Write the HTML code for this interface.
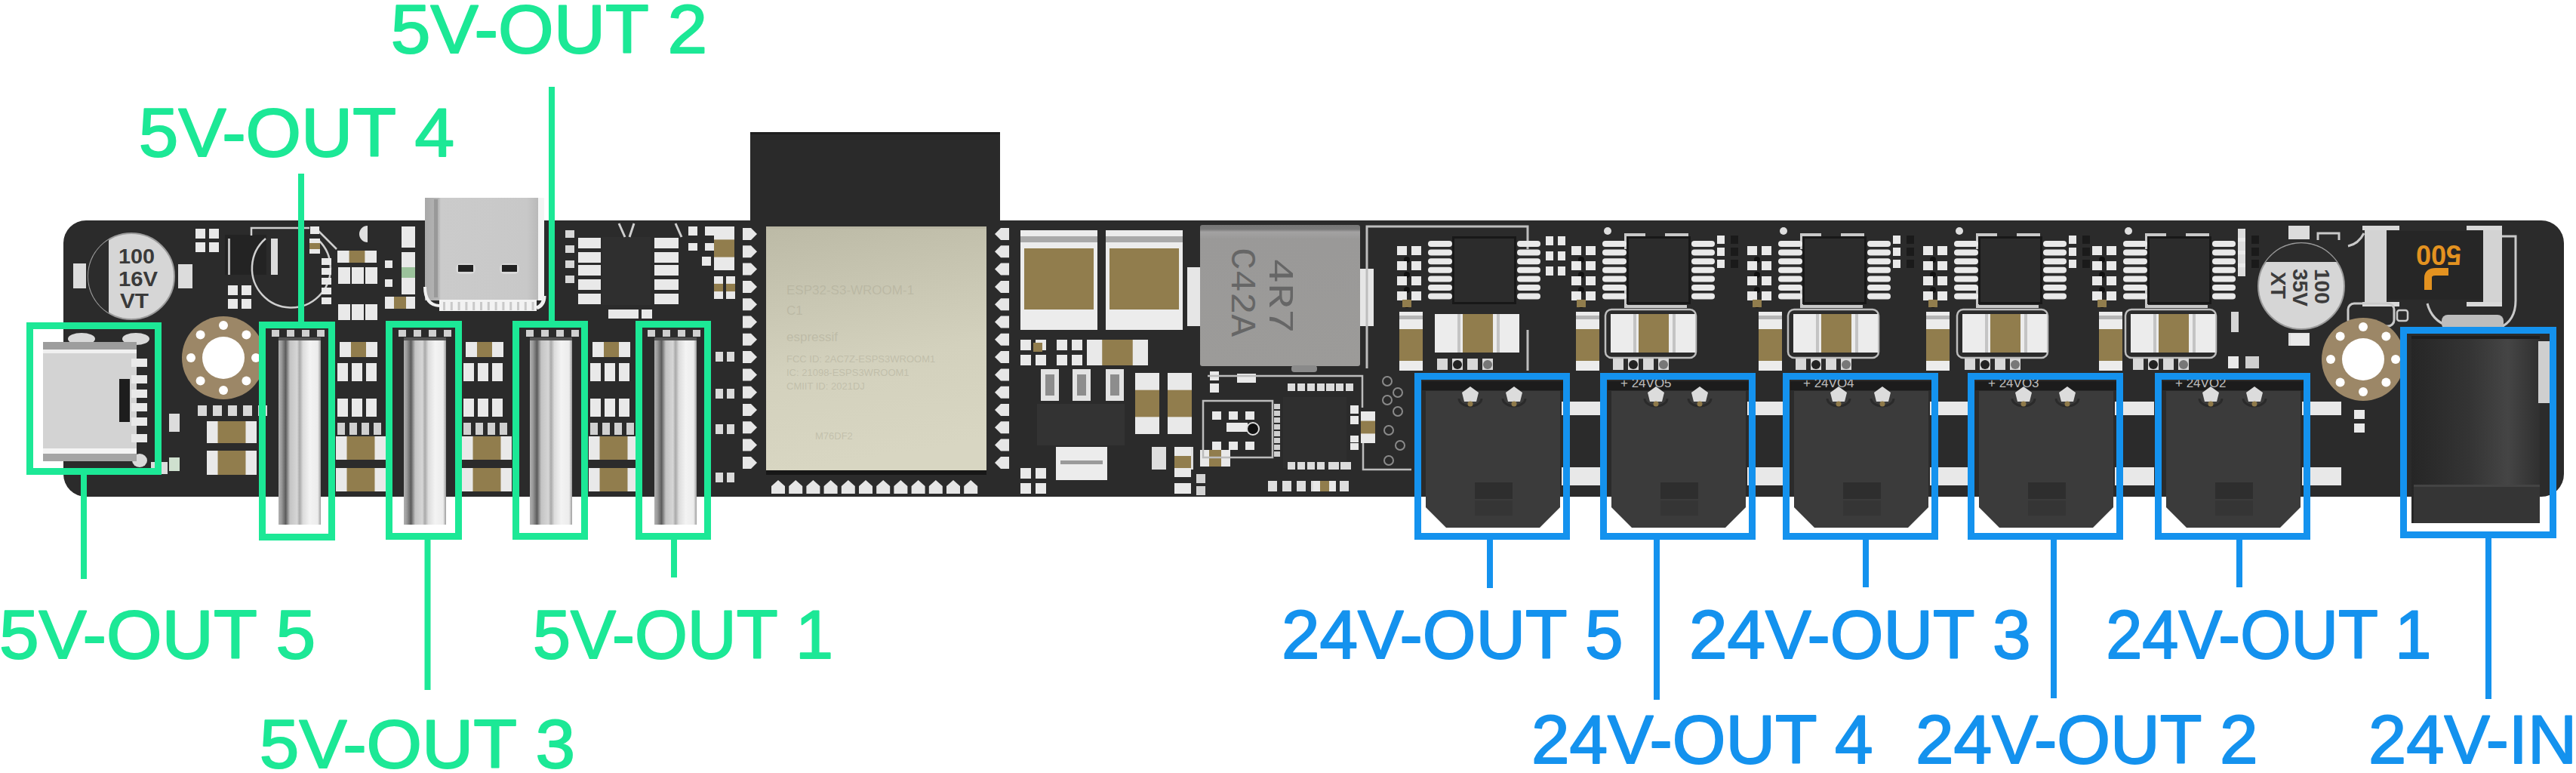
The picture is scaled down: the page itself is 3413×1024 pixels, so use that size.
<!DOCTYPE html>
<html><head><meta charset="utf-8"><title>PCB</title>
<style>
html,body{margin:0;padding:0;background:#fff;width:3413px;height:1024px;overflow:hidden}
svg{display:block}
.lbl{font-family:"Liberation Sans",sans-serif;font-size:91px;stroke-width:2px;stroke-linejoin:round}
.silk{font-family:"Liberation Sans",sans-serif}
</style></head><body>
<svg width="3413" height="1024" viewBox="0 0 3413 1024">
<defs>
<linearGradient id="cylg" x1="0" x2="1" y1="0" y2="0">
<stop offset="0" stop-color="#b0b0b0"/><stop offset="0.07" stop-color="#9a9a9a"/><stop offset="0.17" stop-color="#5c5c5c"/>
<stop offset="0.27" stop-color="#c4c4c4"/><stop offset="0.44" stop-color="#d6d6d6"/><stop offset="0.5" stop-color="#a9a9a9"/>
<stop offset="0.58" stop-color="#dcdcdc"/><stop offset="0.74" stop-color="#f3f3f3"/><stop offset="0.93" stop-color="#ececec"/><stop offset="1" stop-color="#9c9c9c"/>
</linearGradient>
<linearGradient id="espg" x1="0" x2="0.15" y1="0" y2="1">
<stop offset="0" stop-color="#bcbaa6"/><stop offset="0.6" stop-color="#d3d1bd"/><stop offset="1" stop-color="#d8d6c2"/>
</linearGradient>
<linearGradient id="indg" x1="0" x2="0" y1="0" y2="1">
<stop offset="0" stop-color="#767676"/><stop offset="0.03" stop-color="#7a7a7a"/><stop offset="0.05" stop-color="#a3a2a2"/><stop offset="0.1" stop-color="#9a9998"/><stop offset="1" stop-color="#9c9b99"/>
</linearGradient>
<linearGradient id="jackg" x1="0" x2="1" y1="0" y2="0">
<stop offset="0" stop-color="#262626"/><stop offset="0.45" stop-color="#343434"/><stop offset="0.75" stop-color="#454545"/><stop offset="1" stop-color="#303030"/>
</linearGradient>
<linearGradient id="usbg" x1="0" x2="1" y1="0" y2="0">
<stop offset="0" stop-color="#a9a9a9"/><stop offset="0.12" stop-color="#b5b5b5"/><stop offset="0.14" stop-color="#cbcbcb"/><stop offset="0.9" stop-color="#c8c8c8"/><stop offset="1" stop-color="#b9b9b9"/>
</linearGradient>
</defs>
<rect x="994" y="175" width="331" height="125" fill="#2a2a2a"/>
<rect x="994" y="175" width="331" height="3" fill="#1f1f1f"/>
<rect x="84" y="292" width="3313" height="366" fill="#2b2b2b" rx="30"/>
<rect x="97" y="349" width="17" height="33" fill="#dcdcdc"/>
<rect x="236" y="350" width="19" height="32" fill="#dcdcdc"/>
<circle cx="174" cy="366" r="57" fill="#d6d6d6" stroke="#9a9a9a" stroke-width="2"/>
<path d="M 144 317.5 A 57 57 0 0 0 144 414.5 Z" fill="#2c2c2c"/>
<text class="silk" x="157" y="349" font-size="28" font-weight="bold" fill="#3a3a3a" textLength="48" lengthAdjust="spacingAndGlyphs">100</text>
<text class="silk" x="157" y="379" font-size="28" font-weight="bold" fill="#3a3a3a" textLength="52" lengthAdjust="spacingAndGlyphs">16V</text>
<text class="silk" x="159" y="408" font-size="28" font-weight="bold" fill="#3a3a3a" textLength="38" lengthAdjust="spacingAndGlyphs">VT</text>
<ellipse cx="108" cy="449" rx="18" ry="8" fill="#d9d9d9"/>
<ellipse cx="180" cy="449" rx="18" ry="8" fill="#d9d9d9"/>
<ellipse cx="185" cy="610" rx="10" ry="9" fill="#d9d9d9"/>
<rect x="57" y="453" width="124" height="158" fill="#d3d3d3"/>
<rect x="57" y="453" width="124" height="10" fill="#9d9d9d"/>
<rect x="57" y="463" width="124" height="5" fill="#f0f0f0"/>
<rect x="57" y="594" width="124" height="7" fill="#f4f4f4"/>
<rect x="57" y="601" width="124" height="10" fill="#a5a5a5"/>
<rect x="158" y="502" width="14" height="57" fill="#1d1d1d"/>
<rect x="174" y="475" width="21" height="11" fill="#e9e9e9"/>
<rect x="174" y="497" width="21" height="11" fill="#e9e9e9"/>
<rect x="174" y="516" width="21" height="11" fill="#e9e9e9"/>
<rect x="174" y="534" width="21" height="11" fill="#e9e9e9"/>
<rect x="174" y="553" width="21" height="11" fill="#e9e9e9"/>
<rect x="174" y="575" width="21" height="11" fill="#e9e9e9"/>
<circle cx="296" cy="474" r="55" fill="#9c8767" />
<circle cx="296" cy="474" r="28" fill="#ffffff" />
<circle cx="339.0" cy="474.0" r="6" fill="#ffffff" />
<circle cx="326.4" cy="504.4" r="6" fill="#ffffff" />
<circle cx="296.0" cy="517.0" r="6" fill="#ffffff" />
<circle cx="265.6" cy="504.4" r="6" fill="#ffffff" />
<circle cx="253.0" cy="474.0" r="6" fill="#ffffff" />
<circle cx="265.6" cy="443.6" r="6" fill="#ffffff" />
<circle cx="296.0" cy="431.0" r="6" fill="#ffffff" />
<circle cx="326.4" cy="443.6" r="6" fill="#ffffff" />
<rect x="274" y="558" width="66" height="29" fill="#e9e9e9"/>
<rect x="288.52" y="558" width="36.96" height="29" fill="#917d4d"/>
<rect x="274" y="597" width="66" height="32" fill="#e9e9e9"/>
<rect x="288.52" y="597" width="36.96" height="32" fill="#917d4d"/>
<rect x="262" y="537" width="12" height="14" fill="#d8d8d8"/>
<rect x="282" y="537" width="12" height="14" fill="#d8d8d8"/>
<rect x="302" y="537" width="12" height="14" fill="#d8d8d8"/>
<rect x="322" y="537" width="12" height="14" fill="#d8d8d8"/>
<rect x="342" y="537" width="12" height="14" fill="#d8d8d8"/>
<rect x="224" y="548" width="14" height="24" fill="#dcdcdc"/>
<rect x="224" y="606" width="14" height="18" fill="#cfe0cf"/>
<rect x="200" y="612" width="22" height="16" fill="#dcdcdc"/>
<rect x="120" y="662" width="0" height="0" fill="#2b2b2b"/>
<rect x="259" y="303" width="13" height="13" fill="#e9e9e9"/>
<rect x="277" y="303" width="13" height="13" fill="#e9e9e9"/>
<rect x="259" y="321" width="13" height="13" fill="#e9e9e9"/>
<rect x="277" y="321" width="13" height="13" fill="#e9e9e9"/>
<rect x="298" y="311" width="55" height="53" fill="#232323"/>
<rect x="302" y="316" width="3" height="48" fill="#bdbdbd"/>
<path d="M 352 316 A 52 52 0 1 0 422 318" fill="none" stroke="#cfcfcf" stroke-width="2.5"/>
<path d="M 333 312 V 302 H 410 M 418 302 L 446 330" fill="none" stroke="#cfcfcf" stroke-width="2.5"/>
<rect x="410" y="316" width="14" height="20" fill="#e9e9e9"/>
<rect x="410" y="322.0" width="14" height="8.0" fill="#917d4d"/>
<rect x="411" y="300" width="12" height="10" fill="#e9e9e9"/>
<rect x="359" y="316" width="9" height="48" fill="#dcdcdc"/>
<rect x="302" y="378" width="13" height="13" fill="#e9e9e9"/>
<rect x="320" y="378" width="13" height="13" fill="#e9e9e9"/>
<rect x="302" y="396" width="13" height="13" fill="#e9e9e9"/>
<rect x="320" y="396" width="13" height="13" fill="#e9e9e9"/>
<rect x="426" y="342" width="13" height="9" fill="#e9e9e9"/>
<rect x="426" y="355" width="13" height="9" fill="#e9e9e9"/>
<rect x="426" y="368" width="13" height="9" fill="#e9e9e9"/>
<rect x="426" y="381" width="13" height="9" fill="#e9e9e9"/>
<rect x="426" y="394" width="13" height="9" fill="#e9e9e9"/>
<rect x="448" y="333" width="51" height="15" fill="#e9e9e9"/>
<rect x="463.3" y="333" width="20.400000000000002" height="15" fill="#917d4d"/>
<rect x="448" y="354" width="13" height="22" fill="#e9e9e9"/>
<rect x="466" y="354" width="13" height="22" fill="#e9e9e9"/>
<rect x="484" y="354" width="13" height="22" fill="#e9e9e9"/>
<rect x="448" y="403" width="13" height="21" fill="#e9e9e9"/>
<rect x="466" y="403" width="13" height="21" fill="#e9e9e9"/>
<rect x="484" y="403" width="13" height="21" fill="#e9e9e9"/>
<path d="M 487 299 A 11 11 0 0 0 487 321 Z" fill="#e0e0e0"/>
<rect x="563" y="262" width="150" height="136" fill="url(#usbg)"/>
<rect x="575" y="264" width="5" height="130" fill="#999999"/>
<rect x="713" y="262" width="8" height="136" fill="#f4f4f4"/>
<rect x="604" y="349" width="26" height="14" rx="6" fill="#d8d8d8"/><rect x="662" y="349" width="26" height="14" rx="6" fill="#d8d8d8"/>
<rect x="607" y="351" width="20" height="9" fill="#222"/>
<rect x="665" y="351" width="20" height="9" fill="#222"/>
<rect x="582" y="397" width="129" height="15" fill="#f2f2f2"/>
<rect x="587.0" y="400" width="3" height="11" fill="#c9c9c9"/>
<rect x="596.8" y="400" width="3" height="11" fill="#c9c9c9"/>
<rect x="606.6" y="400" width="3" height="11" fill="#c9c9c9"/>
<rect x="616.4" y="400" width="3" height="11" fill="#c9c9c9"/>
<rect x="626.2" y="400" width="3" height="11" fill="#c9c9c9"/>
<rect x="636.0" y="400" width="3" height="11" fill="#c9c9c9"/>
<rect x="645.8" y="400" width="3" height="11" fill="#c9c9c9"/>
<rect x="655.6" y="400" width="3" height="11" fill="#c9c9c9"/>
<rect x="665.4" y="400" width="3" height="11" fill="#c9c9c9"/>
<rect x="675.2" y="400" width="3" height="11" fill="#c9c9c9"/>
<rect x="685.0" y="400" width="3" height="11" fill="#c9c9c9"/>
<rect x="694.8" y="400" width="3" height="11" fill="#c9c9c9"/>
<rect x="704.6" y="400" width="3" height="11" fill="#c9c9c9"/>
<path d="M 563 380 Q 563 404 582 405" fill="none" stroke="#f0f0f0" stroke-width="4"/>
<path d="M 721 392 Q 721 404 711 408" fill="none" stroke="#f0f0f0" stroke-width="5"/>
<rect x="447" y="332" width="52" height="16" fill="#e9e9e9"/>
<rect x="462.6" y="332" width="20.8" height="16" fill="#917d4d"/>
<rect x="452" y="354" width="12" height="22" fill="#e9e9e9"/>
<rect x="470" y="354" width="12" height="22" fill="#e9e9e9"/>
<rect x="488" y="354" width="12" height="22" fill="#e9e9e9"/>
<rect x="452" y="403" width="12" height="21" fill="#e9e9e9"/>
<rect x="470" y="403" width="12" height="21" fill="#e9e9e9"/>
<rect x="488" y="403" width="12" height="21" fill="#e9e9e9"/>
<rect x="532" y="300" width="18" height="28" fill="#e9e9e9"/>
<rect x="532" y="334" width="18" height="24" fill="#e9e9e9"/>
<rect x="532" y="354" width="18" height="14" fill="#9bc29b"/>
<rect x="532" y="368" width="18" height="22" fill="#e9e9e9"/>
<rect x="510" y="393" width="40" height="16" fill="#e9e9e9"/>
<rect x="522.0" y="393" width="16.0" height="16" fill="#917d4d"/>
<rect x="510" y="345" width="10" height="10" fill="#e9e9e9"/>
<rect x="510" y="370" width="10" height="10" fill="#e9e9e9"/>
<rect x="798" y="314" width="64" height="90" fill="#2f2f2f"/>
<rect x="766" y="315" width="30" height="14" fill="#e9e9e9"/>
<rect x="867" y="315" width="32" height="14" fill="#e9e9e9"/>
<rect x="766" y="334" width="30" height="14" fill="#e9e9e9"/>
<rect x="867" y="334" width="32" height="14" fill="#e9e9e9"/>
<rect x="766" y="351" width="30" height="14" fill="#e9e9e9"/>
<rect x="867" y="351" width="32" height="14" fill="#e9e9e9"/>
<rect x="766" y="370" width="30" height="14" fill="#e9e9e9"/>
<rect x="867" y="370" width="32" height="14" fill="#e9e9e9"/>
<rect x="766" y="389" width="30" height="14" fill="#e9e9e9"/>
<rect x="867" y="389" width="32" height="14" fill="#e9e9e9"/>
<rect x="749" y="305" width="12" height="10" fill="#d8d8d8"/>
<rect x="749" y="325" width="12" height="10" fill="#d8d8d8"/>
<rect x="749" y="345" width="12" height="10" fill="#d8d8d8"/>
<rect x="749" y="365" width="12" height="10" fill="#d8d8d8"/>
<rect x="946" y="300" width="27" height="58" fill="#e9e9e9"/>
<rect x="946" y="317.4" width="27" height="23.200000000000003" fill="#917d4d"/>
<rect x="912" y="300" width="12" height="12" fill="#e9e9e9"/>
<rect x="934" y="300" width="12" height="12" fill="#e9e9e9"/>
<rect x="912" y="322" width="12" height="10" fill="#e9e9e9"/>
<rect x="934" y="322" width="12" height="10" fill="#e9e9e9"/>
<rect x="930" y="340" width="12" height="12" fill="#e9e9e9"/>
<rect x="946" y="366" width="12" height="30" fill="#e9e9e9"/>
<rect x="946" y="375.9" width="12" height="10.2" fill="#917d4d"/>
<rect x="962" y="366" width="12" height="30" fill="#e9e9e9"/>
<rect x="962" y="375.9" width="12" height="10.2" fill="#917d4d"/>
<rect x="806" y="410" width="40" height="12" fill="#e9e9e9"/>
<rect x="850" y="410" width="14" height="12" fill="#e9e9e9"/>
<path d="M 820 296 L 828 314 M 840 296 L 834 314 M 895 296 L 903 314" stroke="#cfcfcf" stroke-width="3"/>
<rect x="450" y="453" width="50" height="20" fill="#e9e9e9"/>
<rect x="465.0" y="453" width="20.0" height="20" fill="#917d4d"/>
<rect x="447" y="481" width="14" height="24" fill="#e9e9e9"/>
<rect x="466" y="481" width="14" height="24" fill="#e9e9e9"/>
<rect x="485" y="481" width="14" height="24" fill="#e9e9e9"/>
<rect x="447" y="528" width="14" height="24" fill="#e9e9e9"/>
<rect x="466" y="528" width="14" height="24" fill="#e9e9e9"/>
<rect x="485" y="528" width="14" height="24" fill="#e9e9e9"/>
<rect x="447" y="560" width="10" height="16" fill="#d0d0d0"/>
<rect x="463" y="560" width="10" height="16" fill="#d0d0d0"/>
<rect x="479" y="560" width="10" height="16" fill="#d0d0d0"/>
<rect x="495" y="560" width="10" height="16" fill="#d0d0d0"/>
<rect x="445" y="578" width="66" height="31" fill="#e9e9e9"/>
<rect x="459.52" y="578" width="36.96" height="31" fill="#917d4d"/>
<rect x="445" y="620" width="66" height="31" fill="#e9e9e9"/>
<rect x="459.52" y="620" width="36.96" height="31" fill="#917d4d"/>
<rect x="617" y="453" width="50" height="20" fill="#e9e9e9"/>
<rect x="632.0" y="453" width="20.0" height="20" fill="#917d4d"/>
<rect x="614" y="481" width="14" height="24" fill="#e9e9e9"/>
<rect x="633" y="481" width="14" height="24" fill="#e9e9e9"/>
<rect x="652" y="481" width="14" height="24" fill="#e9e9e9"/>
<rect x="614" y="528" width="14" height="24" fill="#e9e9e9"/>
<rect x="633" y="528" width="14" height="24" fill="#e9e9e9"/>
<rect x="652" y="528" width="14" height="24" fill="#e9e9e9"/>
<rect x="614" y="560" width="10" height="16" fill="#d0d0d0"/>
<rect x="630" y="560" width="10" height="16" fill="#d0d0d0"/>
<rect x="646" y="560" width="10" height="16" fill="#d0d0d0"/>
<rect x="662" y="560" width="10" height="16" fill="#d0d0d0"/>
<rect x="612" y="578" width="66" height="31" fill="#e9e9e9"/>
<rect x="626.52" y="578" width="36.96" height="31" fill="#917d4d"/>
<rect x="612" y="620" width="66" height="31" fill="#e9e9e9"/>
<rect x="626.52" y="620" width="36.96" height="31" fill="#917d4d"/>
<rect x="785" y="453" width="50" height="20" fill="#e9e9e9"/>
<rect x="800.0" y="453" width="20.0" height="20" fill="#917d4d"/>
<rect x="782" y="481" width="14" height="24" fill="#e9e9e9"/>
<rect x="801" y="481" width="14" height="24" fill="#e9e9e9"/>
<rect x="820" y="481" width="14" height="24" fill="#e9e9e9"/>
<rect x="782" y="528" width="14" height="24" fill="#e9e9e9"/>
<rect x="801" y="528" width="14" height="24" fill="#e9e9e9"/>
<rect x="820" y="528" width="14" height="24" fill="#e9e9e9"/>
<rect x="782" y="560" width="10" height="16" fill="#d0d0d0"/>
<rect x="798" y="560" width="10" height="16" fill="#d0d0d0"/>
<rect x="814" y="560" width="10" height="16" fill="#d0d0d0"/>
<rect x="830" y="560" width="10" height="16" fill="#d0d0d0"/>
<rect x="780" y="578" width="66" height="31" fill="#e9e9e9"/>
<rect x="794.52" y="578" width="36.96" height="31" fill="#917d4d"/>
<rect x="780" y="620" width="66" height="31" fill="#e9e9e9"/>
<rect x="794.52" y="620" width="36.96" height="31" fill="#917d4d"/>
<rect x="948" y="466" width="10" height="13" fill="#dadada"/>
<rect x="963" y="466" width="10" height="13" fill="#dadada"/>
<rect x="948" y="515" width="10" height="13" fill="#dadada"/>
<rect x="963" y="515" width="10" height="13" fill="#dadada"/>
<rect x="948" y="562" width="10" height="13" fill="#dadada"/>
<rect x="963" y="562" width="10" height="13" fill="#dadada"/>
<rect x="948" y="626" width="10" height="13" fill="#dadada"/>
<rect x="963" y="626" width="10" height="13" fill="#dadada"/>
<rect x="360" y="437" width="10" height="9" fill="#cfcfcf"/>
<rect x="380" y="437" width="10" height="9" fill="#cfcfcf"/>
<rect x="400" y="437" width="10" height="9" fill="#cfcfcf"/>
<rect x="420" y="437" width="10" height="9" fill="#cfcfcf"/>
<rect x="528" y="437" width="10" height="9" fill="#cfcfcf"/>
<rect x="548" y="437" width="10" height="9" fill="#cfcfcf"/>
<rect x="568" y="437" width="10" height="9" fill="#cfcfcf"/>
<rect x="588" y="437" width="10" height="9" fill="#cfcfcf"/>
<rect x="697" y="437" width="10" height="9" fill="#cfcfcf"/>
<rect x="717" y="437" width="10" height="9" fill="#cfcfcf"/>
<rect x="737" y="437" width="10" height="9" fill="#cfcfcf"/>
<rect x="757" y="437" width="10" height="9" fill="#cfcfcf"/>
<rect x="858" y="437" width="10" height="9" fill="#cfcfcf"/>
<rect x="878" y="437" width="10" height="9" fill="#cfcfcf"/>
<rect x="898" y="437" width="10" height="9" fill="#cfcfcf"/>
<rect x="918" y="437" width="10" height="9" fill="#cfcfcf"/>
<rect x="369" y="447" width="56" height="248" fill="url(#cylg)"/>
<rect x="369" y="447" width="56" height="4" fill="#555"/>
<rect x="535" y="447" width="56" height="248" fill="url(#cylg)"/>
<rect x="535" y="447" width="56" height="4" fill="#555"/>
<rect x="702" y="447" width="56" height="248" fill="url(#cylg)"/>
<rect x="702" y="447" width="56" height="4" fill="#555"/>
<rect x="867" y="447" width="56" height="248" fill="url(#cylg)"/>
<rect x="867" y="447" width="56" height="4" fill="#555"/>
<rect x="1015" y="300" width="292" height="323" fill="url(#espg)"/>
<rect x="1015" y="300" width="292" height="3" fill="#b9b6a3"/>
<rect x="1015" y="623" width="292" height="6" fill="#171717"/>
<path d="M 984 302.0 h 11 l 8 8 l -8 8 h -11 z" fill="#e6e6e6"/>
<path d="M 1337 302.0 h -11 l -8 8 l 8 8 h 11 z" fill="#e6e6e6"/>
<path d="M 984 325.3 h 11 l 8 8 l -8 8 h -11 z" fill="#e6e6e6"/>
<path d="M 1337 325.3 h -11 l -8 8 l 8 8 h 11 z" fill="#e6e6e6"/>
<path d="M 984 348.6 h 11 l 8 8 l -8 8 h -11 z" fill="#e6e6e6"/>
<path d="M 1337 348.6 h -11 l -8 8 l 8 8 h 11 z" fill="#e6e6e6"/>
<path d="M 984 371.9 h 11 l 8 8 l -8 8 h -11 z" fill="#e6e6e6"/>
<path d="M 1337 371.9 h -11 l -8 8 l 8 8 h 11 z" fill="#e6e6e6"/>
<path d="M 984 395.2 h 11 l 8 8 l -8 8 h -11 z" fill="#e6e6e6"/>
<path d="M 1337 395.2 h -11 l -8 8 l 8 8 h 11 z" fill="#e6e6e6"/>
<path d="M 984 418.5 h 11 l 8 8 l -8 8 h -11 z" fill="#e6e6e6"/>
<path d="M 1337 418.5 h -11 l -8 8 l 8 8 h 11 z" fill="#e6e6e6"/>
<path d="M 984 441.8 h 11 l 8 8 l -8 8 h -11 z" fill="#e6e6e6"/>
<path d="M 1337 441.8 h -11 l -8 8 l 8 8 h 11 z" fill="#e6e6e6"/>
<path d="M 984 465.1 h 11 l 8 8 l -8 8 h -11 z" fill="#e6e6e6"/>
<path d="M 1337 465.1 h -11 l -8 8 l 8 8 h 11 z" fill="#e6e6e6"/>
<path d="M 984 488.4 h 11 l 8 8 l -8 8 h -11 z" fill="#e6e6e6"/>
<path d="M 1337 488.4 h -11 l -8 8 l 8 8 h 11 z" fill="#e6e6e6"/>
<path d="M 984 511.7 h 11 l 8 8 l -8 8 h -11 z" fill="#e6e6e6"/>
<path d="M 1337 511.7 h -11 l -8 8 l 8 8 h 11 z" fill="#e6e6e6"/>
<path d="M 984 535.0 h 11 l 8 8 l -8 8 h -11 z" fill="#e6e6e6"/>
<path d="M 1337 535.0 h -11 l -8 8 l 8 8 h 11 z" fill="#e6e6e6"/>
<path d="M 984 558.3 h 11 l 8 8 l -8 8 h -11 z" fill="#e6e6e6"/>
<path d="M 1337 558.3 h -11 l -8 8 l 8 8 h 11 z" fill="#e6e6e6"/>
<path d="M 984 581.6 h 11 l 8 8 l -8 8 h -11 z" fill="#e6e6e6"/>
<path d="M 1337 581.6 h -11 l -8 8 l 8 8 h 11 z" fill="#e6e6e6"/>
<path d="M 984 604.9 h 11 l 8 8 l -8 8 h -11 z" fill="#e6e6e6"/>
<path d="M 1337 604.9 h -11 l -8 8 l 8 8 h 11 z" fill="#e6e6e6"/>
<path d="M 1022.0 654 v -10 l 9 -8 l 9 8 v 10 z" fill="#e6e6e6"/>
<path d="M 1045.2 654 v -10 l 9 -8 l 9 8 v 10 z" fill="#e6e6e6"/>
<path d="M 1068.4 654 v -10 l 9 -8 l 9 8 v 10 z" fill="#e6e6e6"/>
<path d="M 1091.6 654 v -10 l 9 -8 l 9 8 v 10 z" fill="#e6e6e6"/>
<path d="M 1114.8 654 v -10 l 9 -8 l 9 8 v 10 z" fill="#e6e6e6"/>
<path d="M 1138.0 654 v -10 l 9 -8 l 9 8 v 10 z" fill="#e6e6e6"/>
<path d="M 1161.2 654 v -10 l 9 -8 l 9 8 v 10 z" fill="#e6e6e6"/>
<path d="M 1184.4 654 v -10 l 9 -8 l 9 8 v 10 z" fill="#e6e6e6"/>
<path d="M 1207.6 654 v -10 l 9 -8 l 9 8 v 10 z" fill="#e6e6e6"/>
<path d="M 1230.8 654 v -10 l 9 -8 l 9 8 v 10 z" fill="#e6e6e6"/>
<path d="M 1254.0 654 v -10 l 9 -8 l 9 8 v 10 z" fill="#e6e6e6"/>
<path d="M 1277.2 654 v -10 l 9 -8 l 9 8 v 10 z" fill="#e6e6e6"/>
<g fill="#a9a692" fill-opacity="0.45" font-family="Liberation Sans" font-size="17"><text x="1042" y="390">ESP32-S3-WROOM-1</text><text x="1042" y="417">C1</text><text x="1042" y="452">espressif   </text><text x="1042" y="480" font-size="13">FCC ID: 2AC7Z-ESPS3WROOM1</text><text x="1042" y="498" font-size="13">IC: 21098-ESPS3WROOM1</text><text x="1042" y="516" font-size="13">CMIIT ID: 2021DJ</text><text x="1080" y="582" font-size="13">M76DF2</text></g>
<rect x="1352" y="305" width="102" height="132" fill="#ececec"/>
<rect x="1352" y="313" width="102" height="8" fill="#a9a9a9"/>
<rect x="1357" y="329" width="92" height="81" fill="#917d4d"/>
<rect x="1465" y="305" width="102" height="132" fill="#ececec"/>
<rect x="1465" y="313" width="102" height="8" fill="#a9a9a9"/>
<rect x="1470" y="329" width="92" height="81" fill="#917d4d"/>
<rect x="1573" y="354" width="17" height="78" fill="#e6e6e6"/>
<rect x="1801" y="356" width="19" height="76" fill="#e6e6e6"/>
<rect x="1590" y="298" width="212" height="187" fill="url(#indg)" rx="3"/>
<g transform="translate(1672 390) rotate(90)" fill="#666666" font-family="Liberation Mono" font-size="46"><text x="-48" y="-10" textLength="100" lengthAdjust="spacingAndGlyphs">4R7</text><text x="-62" y="40" textLength="118" lengthAdjust="spacingAndGlyphs">C42A</text></g>
<rect x="1352" y="450" width="14" height="14" fill="#e9e9e9"/>
<rect x="1372" y="450" width="14" height="14" fill="#e9e9e9"/>
<rect x="1352" y="470" width="14" height="14" fill="#e9e9e9"/>
<rect x="1372" y="470" width="14" height="14" fill="#e9e9e9"/>
<rect x="1369" y="454" width="12" height="12" fill="#917d4d"/>
<rect x="1400" y="450" width="14" height="14" fill="#e9e9e9"/>
<rect x="1420" y="450" width="14" height="14" fill="#e9e9e9"/>
<rect x="1400" y="470" width="14" height="14" fill="#e9e9e9"/>
<rect x="1420" y="470" width="14" height="14" fill="#e9e9e9"/>
<rect x="1440" y="450" width="81" height="34" fill="#e9e9e9"/>
<rect x="1460.25" y="450" width="40.5" height="34" fill="#917d4d"/>
<rect x="1379" y="489" width="24" height="42" fill="#e3e3e3"/>
<rect x="1385" y="496" width="12" height="28" fill="#8d8d8d"/>
<rect x="1421" y="489" width="24" height="42" fill="#e3e3e3"/>
<rect x="1427" y="496" width="12" height="28" fill="#8d8d8d"/>
<rect x="1465" y="489" width="24" height="42" fill="#e3e3e3"/>
<rect x="1471" y="496" width="12" height="28" fill="#8d8d8d"/>
<rect x="1374" y="535" width="116" height="55" fill="#333333"/>
<rect x="1399" y="592" width="68" height="44" fill="#ececec"/>
<rect x="1405" y="610" width="56" height="5" fill="#9a9a9a"/>
<rect x="1504" y="494" width="32" height="81" fill="#e9e9e9"/>
<rect x="1504" y="516.68" width="32" height="35.63999999999999" fill="#917d4d"/>
<rect x="1547" y="494" width="32" height="81" fill="#e9e9e9"/>
<rect x="1547" y="516.68" width="32" height="35.63999999999999" fill="#917d4d"/>
<rect x="1352" y="620" width="14" height="14" fill="#e9e9e9"/>
<rect x="1372" y="620" width="14" height="14" fill="#e9e9e9"/>
<rect x="1352" y="640" width="14" height="14" fill="#e9e9e9"/>
<rect x="1372" y="640" width="14" height="14" fill="#e9e9e9"/>
<rect x="1526" y="592" width="55" height="30" fill="#dedede"/>
<rect x="1545" y="592" width="17" height="30" fill="#2a2a2a"/>
<rect x="1590" y="596" width="40" height="22" fill="#e9e9e9"/>
<rect x="1602.0" y="596" width="16.0" height="22" fill="#917d4d"/>
<rect x="1711" y="484" width="34" height="9" rx="4" fill="#8a8a8a"/>
<rect x="1603" y="492" width="12" height="12" fill="#e9e9e9"/>
<rect x="1603" y="508" width="12" height="12" fill="#e9e9e9"/>
<rect x="1639" y="495" width="25" height="12" fill="#e9e9e9"/>
<rect x="1594" y="531" width="92" height="75" fill="none" stroke="#bcbcbc" stroke-width="2.5"/>
<rect x="1606" y="545" width="12" height="11" fill="#e9e9e9"/>
<rect x="1628" y="545" width="12" height="11" fill="#e9e9e9"/>
<rect x="1650" y="545" width="12" height="11" fill="#e9e9e9"/>
<rect x="1606" y="585" width="12" height="11" fill="#e9e9e9"/>
<rect x="1628" y="585" width="12" height="11" fill="#e9e9e9"/>
<rect x="1650" y="585" width="12" height="11" fill="#e9e9e9"/>
<rect x="1625" y="560" width="28" height="12" fill="#e9e9e9"/>
<circle cx="1660" cy="568" r="8" fill="#111" stroke="#ddd" stroke-width="2"/>
<rect x="1688" y="535" width="8" height="7" fill="#d0d0d0"/>
<rect x="1688" y="544" width="8" height="7" fill="#d0d0d0"/>
<rect x="1688" y="553" width="8" height="7" fill="#d0d0d0"/>
<rect x="1688" y="562" width="8" height="7" fill="#d0d0d0"/>
<rect x="1688" y="571" width="8" height="7" fill="#d0d0d0"/>
<rect x="1688" y="580" width="8" height="7" fill="#d0d0d0"/>
<rect x="1688" y="589" width="8" height="7" fill="#d0d0d0"/>
<rect x="1688" y="598" width="8" height="7" fill="#d0d0d0"/>
<rect x="1700" y="526" width="84" height="94" fill="#2f2f2f"/>
<rect x="1706" y="508" width="10" height="10" fill="#dcdcdc"/>
<rect x="1719" y="508" width="10" height="10" fill="#dcdcdc"/>
<rect x="1732" y="508" width="10" height="10" fill="#dcdcdc"/>
<rect x="1745" y="508" width="10" height="10" fill="#dcdcdc"/>
<rect x="1758" y="508" width="10" height="10" fill="#dcdcdc"/>
<rect x="1757" y="508" width="10" height="10" fill="#dcdcdc"/>
<rect x="1770" y="508" width="10" height="10" fill="#dcdcdc"/>
<rect x="1783" y="508" width="10" height="10" fill="#dcdcdc"/>
<rect x="1706" y="612" width="10" height="10" fill="#dcdcdc"/>
<rect x="1719" y="612" width="10" height="10" fill="#dcdcdc"/>
<rect x="1732" y="612" width="10" height="10" fill="#dcdcdc"/>
<rect x="1745" y="612" width="10" height="10" fill="#dcdcdc"/>
<rect x="1760" y="612" width="14" height="10" fill="#dcdcdc"/>
<rect x="1776" y="612" width="14" height="10" fill="#dcdcdc"/>
<circle cx="1838" cy="505" r="6" fill="none" stroke="#8a8a8a" stroke-width="2"/>
<circle cx="1852" cy="520" r="6" fill="none" stroke="#8a8a8a" stroke-width="2"/>
<circle cx="1838" cy="530" r="6" fill="none" stroke="#8a8a8a" stroke-width="2"/>
<circle cx="1852" cy="545" r="6" fill="none" stroke="#8a8a8a" stroke-width="2"/>
<circle cx="1840" cy="570" r="6" fill="none" stroke="#8a8a8a" stroke-width="2"/>
<circle cx="1855" cy="590" r="6" fill="none" stroke="#8a8a8a" stroke-width="2"/>
<circle cx="1840" cy="610" r="6" fill="none" stroke="#8a8a8a" stroke-width="2"/>
<path d="M 1600 498 H 1805 V 540 M 1806 560 V 622 H 1870" fill="none" stroke="#bcbcbc" stroke-width="2.5"/>
<rect x="1803" y="545" width="19" height="42" fill="#e9e9e9"/>
<rect x="1803" y="557.6" width="19" height="16.8" fill="#917d4d"/>
<rect x="1789" y="537" width="11" height="11" fill="#e9e9e9"/>
<rect x="1789" y="551" width="11" height="11" fill="#e9e9e9"/>
<rect x="1789" y="577" width="11" height="9" fill="#e9e9e9"/>
<rect x="1789" y="587" width="11" height="9" fill="#e9e9e9"/>
<rect x="1680" y="637" width="12" height="14" fill="#dedede"/>
<rect x="1699" y="637" width="12" height="14" fill="#dedede"/>
<rect x="1718" y="637" width="12" height="14" fill="#dedede"/>
<rect x="1737" y="637" width="12" height="14" fill="#dedede"/>
<rect x="1756" y="637" width="12" height="14" fill="#dedede"/>
<rect x="1775" y="637" width="12" height="14" fill="#dedede"/>
<rect x="1740" y="637" width="30" height="14" fill="#e9e9e9"/>
<rect x="1749.0" y="637" width="12.0" height="14" fill="#917d4d"/>
<rect x="1556" y="592" width="22" height="40" fill="#e9e9e9"/>
<rect x="1556" y="604.0" width="22" height="16.0" fill="#917d4d"/>
<rect x="1556" y="640" width="22" height="14" fill="#e9e9e9"/>
<rect x="1585" y="628" width="12" height="12" fill="#d3d3d3"/>
<rect x="1585" y="644" width="12" height="12" fill="#d3d3d3"/>
<path d="M 1811 488 V 300 H 2024 V 330 M 2024 437 V 491" fill="none" stroke="#bdbdbd" stroke-width="3"/>
<rect x="1925.5" y="314.5" width="82" height="87" fill="#2c2c2c" stroke="#181818" stroke-width="3"/>
<rect x="1892" y="319.0" width="32" height="8" rx="4" fill="#e9e9e9"/>
<rect x="2010" y="319.0" width="31" height="8" rx="4" fill="#e9e9e9"/>
<rect x="1892" y="330.6" width="32" height="8" rx="4" fill="#e9e9e9"/>
<rect x="2010" y="330.6" width="31" height="8" rx="4" fill="#e9e9e9"/>
<rect x="1892" y="342.2" width="32" height="8" rx="4" fill="#e9e9e9"/>
<rect x="2010" y="342.2" width="31" height="8" rx="4" fill="#e9e9e9"/>
<rect x="1892" y="353.8" width="32" height="8" rx="4" fill="#e9e9e9"/>
<rect x="2010" y="353.8" width="31" height="8" rx="4" fill="#e9e9e9"/>
<rect x="1892" y="365.4" width="32" height="8" rx="4" fill="#e9e9e9"/>
<rect x="2010" y="365.4" width="31" height="8" rx="4" fill="#e9e9e9"/>
<rect x="1892" y="377.0" width="32" height="8" rx="4" fill="#e9e9e9"/>
<rect x="2010" y="377.0" width="31" height="8" rx="4" fill="#e9e9e9"/>
<rect x="1892" y="388.6" width="32" height="8" rx="4" fill="#e9e9e9"/>
<rect x="2010" y="388.6" width="31" height="8" rx="4" fill="#e9e9e9"/>
<rect x="1851" y="326" width="13" height="12" fill="#e9e9e9"/>
<rect x="1870" y="326" width="13" height="12" fill="#e9e9e9"/>
<circle cx="1864" cy="344" r="4" fill="#111" />
<rect x="1851" y="346" width="13" height="12" fill="#e9e9e9"/>
<rect x="1870" y="346" width="13" height="12" fill="#e9e9e9"/>
<circle cx="1864" cy="364" r="4" fill="#111" />
<rect x="1851" y="366" width="13" height="12" fill="#e9e9e9"/>
<rect x="1870" y="366" width="13" height="12" fill="#e9e9e9"/>
<circle cx="1864" cy="384" r="4" fill="#111" />
<rect x="1851" y="386" width="13" height="12" fill="#e9e9e9"/>
<rect x="1870" y="386" width="13" height="12" fill="#e9e9e9"/>
<circle cx="1864" cy="404" r="4" fill="#111" />
<rect x="1858" y="397" width="12" height="10" fill="#917d4d"/>
<rect x="1854" y="413" width="31" height="78" fill="#ececec"/>
<rect x="1854" y="418" width="31" height="5" fill="#b5b5b5"/>
<rect x="1854" y="436" width="31" height="42" fill="#917d4d"/>
<rect x="1901" y="416" width="112" height="51" fill="#ececec"/>
<rect x="1938" y="416" width="40" height="51" fill="#917d4d"/>
<rect x="1931" y="416" width="4" height="51" fill="#c4c4c4"/>
<rect x="1983" y="416" width="4" height="51" fill="#c4c4c4"/>
<rect x="1904" y="475" width="14" height="15" fill="#d8d8d8"/>
<rect x="1924" y="475" width="14" height="15" fill="#d8d8d8"/>
<rect x="1944" y="475" width="14" height="15" fill="#d8d8d8"/>
<rect x="1964" y="475" width="14" height="15" fill="#d8d8d8"/>
<circle cx="1931" cy="483" r="6" fill="#222" />
<circle cx="1971" cy="483" r="6" fill="#777" />
<rect x="2069" y="532" width="52" height="18" fill="#e8e8e8"/>
<rect x="2069" y="619" width="52" height="24" fill="#e8e8e8"/>
<path d="M 1889 518 H 2067 V 672 L 2040 699 H 1916 L 1889 672 Z" fill="#3b3b3b"/>
<rect x="1884" y="505" width="190" height="12" fill="#1c1c1c"/>
<path d="M 1937 520 l 11 -8 l 11 8 l -3 12 h -16 z" fill="#dcdcdc"/>
<path d="M 1933 528 a 15 10 0 0 0 30 0" fill="none" stroke="#2a2a2a" stroke-width="3"/>
<circle cx="1948" cy="535" r="3.5" fill="#8f7a4a" />
<path d="M 1995 520 l 11 -8 l 11 8 l -3 12 h -16 z" fill="#dcdcdc"/>
<path d="M 1991 528 a 15 10 0 0 0 30 0" fill="none" stroke="#2a2a2a" stroke-width="3"/>
<circle cx="2006" cy="535" r="3.5" fill="#8f7a4a" />
<rect x="1954" y="639" width="50" height="22" fill="#2e2e2e"/>
<rect x="1954" y="663" width="50" height="20" fill="#353535"/>
<circle cx="2130" cy="306" r="5" fill="#dedede" />
<path d="M 2154 330 V 311 H 2180 M 2206 311 H 2237 M 2154 380 V 406 H 2235" fill="none" stroke="#c9c9c9" stroke-width="4"/>
<rect x="2275" y="312" width="10" height="11" fill="#e9e9e9"/>
<rect x="2293" y="312" width="10" height="11" fill="#1a1a1a"/>
<rect x="2275" y="328" width="10" height="11" fill="#e9e9e9"/>
<rect x="2293" y="328" width="10" height="11" fill="#1a1a1a"/>
<rect x="2275" y="344" width="10" height="11" fill="#e9e9e9"/>
<rect x="2293" y="344" width="10" height="11" fill="#1a1a1a"/>
<rect x="2127" y="410" width="120" height="64" rx="8" fill="none" stroke="#bdbdbd" stroke-width="2.5"/>
<rect x="2156.5" y="314.5" width="82" height="87" fill="#2c2c2c" stroke="#181818" stroke-width="3"/>
<rect x="2123" y="319.0" width="32" height="8" rx="4" fill="#e9e9e9"/>
<rect x="2241" y="319.0" width="31" height="8" rx="4" fill="#e9e9e9"/>
<rect x="2123" y="330.6" width="32" height="8" rx="4" fill="#e9e9e9"/>
<rect x="2241" y="330.6" width="31" height="8" rx="4" fill="#e9e9e9"/>
<rect x="2123" y="342.2" width="32" height="8" rx="4" fill="#e9e9e9"/>
<rect x="2241" y="342.2" width="31" height="8" rx="4" fill="#e9e9e9"/>
<rect x="2123" y="353.8" width="32" height="8" rx="4" fill="#e9e9e9"/>
<rect x="2241" y="353.8" width="31" height="8" rx="4" fill="#e9e9e9"/>
<rect x="2123" y="365.4" width="32" height="8" rx="4" fill="#e9e9e9"/>
<rect x="2241" y="365.4" width="31" height="8" rx="4" fill="#e9e9e9"/>
<rect x="2123" y="377.0" width="32" height="8" rx="4" fill="#e9e9e9"/>
<rect x="2241" y="377.0" width="31" height="8" rx="4" fill="#e9e9e9"/>
<rect x="2123" y="388.6" width="32" height="8" rx="4" fill="#e9e9e9"/>
<rect x="2241" y="388.6" width="31" height="8" rx="4" fill="#e9e9e9"/>
<rect x="2082" y="326" width="13" height="12" fill="#e9e9e9"/>
<rect x="2101" y="326" width="13" height="12" fill="#e9e9e9"/>
<circle cx="2095" cy="344" r="4" fill="#111" />
<rect x="2082" y="346" width="13" height="12" fill="#e9e9e9"/>
<rect x="2101" y="346" width="13" height="12" fill="#e9e9e9"/>
<circle cx="2095" cy="364" r="4" fill="#111" />
<rect x="2082" y="366" width="13" height="12" fill="#e9e9e9"/>
<rect x="2101" y="366" width="13" height="12" fill="#e9e9e9"/>
<circle cx="2095" cy="384" r="4" fill="#111" />
<rect x="2082" y="386" width="13" height="12" fill="#e9e9e9"/>
<rect x="2101" y="386" width="13" height="12" fill="#e9e9e9"/>
<circle cx="2095" cy="404" r="4" fill="#111" />
<rect x="2089" y="397" width="12" height="10" fill="#917d4d"/>
<rect x="2088" y="413" width="31" height="78" fill="#ececec"/>
<rect x="2088" y="418" width="31" height="5" fill="#b5b5b5"/>
<rect x="2088" y="436" width="31" height="42" fill="#917d4d"/>
<rect x="2134" y="416" width="112" height="51" fill="#ececec"/>
<rect x="2171" y="416" width="40" height="51" fill="#917d4d"/>
<rect x="2164" y="416" width="4" height="51" fill="#c4c4c4"/>
<rect x="2216" y="416" width="4" height="51" fill="#c4c4c4"/>
<rect x="2137" y="475" width="14" height="15" fill="#d8d8d8"/>
<rect x="2157" y="475" width="14" height="15" fill="#d8d8d8"/>
<rect x="2177" y="475" width="14" height="15" fill="#d8d8d8"/>
<rect x="2197" y="475" width="14" height="15" fill="#d8d8d8"/>
<circle cx="2164" cy="483" r="6" fill="#222" />
<circle cx="2204" cy="483" r="6" fill="#777" />
<rect x="2315" y="532" width="52" height="18" fill="#e8e8e8"/>
<rect x="2315" y="619" width="52" height="24" fill="#e8e8e8"/>
<path d="M 2135 518 H 2313 V 672 L 2286 699 H 2162 L 2135 672 Z" fill="#3b3b3b"/>
<rect x="2130" y="505" width="190" height="12" fill="#1c1c1c"/>
<path d="M 2183 520 l 11 -8 l 11 8 l -3 12 h -16 z" fill="#dcdcdc"/>
<path d="M 2179 528 a 15 10 0 0 0 30 0" fill="none" stroke="#2a2a2a" stroke-width="3"/>
<circle cx="2194" cy="535" r="3.5" fill="#8f7a4a" />
<path d="M 2241 520 l 11 -8 l 11 8 l -3 12 h -16 z" fill="#dcdcdc"/>
<path d="M 2237 528 a 15 10 0 0 0 30 0" fill="none" stroke="#2a2a2a" stroke-width="3"/>
<circle cx="2252" cy="535" r="3.5" fill="#8f7a4a" />
<rect x="2200" y="639" width="50" height="22" fill="#2e2e2e"/>
<rect x="2200" y="663" width="50" height="20" fill="#353535"/>
<text x="2147" y="513" font-family="Liberation Sans" font-size="17" fill="#bdbdbd">+ 24VO5</text>
<circle cx="2363" cy="306" r="5" fill="#dedede" />
<path d="M 2387 330 V 311 H 2413 M 2439 311 H 2470 M 2387 380 V 406 H 2468" fill="none" stroke="#c9c9c9" stroke-width="4"/>
<rect x="2508" y="312" width="10" height="11" fill="#e9e9e9"/>
<rect x="2526" y="312" width="10" height="11" fill="#1a1a1a"/>
<rect x="2508" y="328" width="10" height="11" fill="#e9e9e9"/>
<rect x="2526" y="328" width="10" height="11" fill="#1a1a1a"/>
<rect x="2508" y="344" width="10" height="11" fill="#e9e9e9"/>
<rect x="2526" y="344" width="10" height="11" fill="#1a1a1a"/>
<rect x="2369" y="410" width="120" height="64" rx="8" fill="none" stroke="#bdbdbd" stroke-width="2.5"/>
<rect x="2389.5" y="314.5" width="82" height="87" fill="#2c2c2c" stroke="#181818" stroke-width="3"/>
<rect x="2356" y="319.0" width="32" height="8" rx="4" fill="#e9e9e9"/>
<rect x="2474" y="319.0" width="31" height="8" rx="4" fill="#e9e9e9"/>
<rect x="2356" y="330.6" width="32" height="8" rx="4" fill="#e9e9e9"/>
<rect x="2474" y="330.6" width="31" height="8" rx="4" fill="#e9e9e9"/>
<rect x="2356" y="342.2" width="32" height="8" rx="4" fill="#e9e9e9"/>
<rect x="2474" y="342.2" width="31" height="8" rx="4" fill="#e9e9e9"/>
<rect x="2356" y="353.8" width="32" height="8" rx="4" fill="#e9e9e9"/>
<rect x="2474" y="353.8" width="31" height="8" rx="4" fill="#e9e9e9"/>
<rect x="2356" y="365.4" width="32" height="8" rx="4" fill="#e9e9e9"/>
<rect x="2474" y="365.4" width="31" height="8" rx="4" fill="#e9e9e9"/>
<rect x="2356" y="377.0" width="32" height="8" rx="4" fill="#e9e9e9"/>
<rect x="2474" y="377.0" width="31" height="8" rx="4" fill="#e9e9e9"/>
<rect x="2356" y="388.6" width="32" height="8" rx="4" fill="#e9e9e9"/>
<rect x="2474" y="388.6" width="31" height="8" rx="4" fill="#e9e9e9"/>
<rect x="2315" y="326" width="13" height="12" fill="#e9e9e9"/>
<rect x="2334" y="326" width="13" height="12" fill="#e9e9e9"/>
<circle cx="2328" cy="344" r="4" fill="#111" />
<rect x="2315" y="346" width="13" height="12" fill="#e9e9e9"/>
<rect x="2334" y="346" width="13" height="12" fill="#e9e9e9"/>
<circle cx="2328" cy="364" r="4" fill="#111" />
<rect x="2315" y="366" width="13" height="12" fill="#e9e9e9"/>
<rect x="2334" y="366" width="13" height="12" fill="#e9e9e9"/>
<circle cx="2328" cy="384" r="4" fill="#111" />
<rect x="2315" y="386" width="13" height="12" fill="#e9e9e9"/>
<rect x="2334" y="386" width="13" height="12" fill="#e9e9e9"/>
<circle cx="2328" cy="404" r="4" fill="#111" />
<rect x="2322" y="397" width="12" height="10" fill="#917d4d"/>
<rect x="2330" y="413" width="31" height="78" fill="#ececec"/>
<rect x="2330" y="418" width="31" height="5" fill="#b5b5b5"/>
<rect x="2330" y="436" width="31" height="42" fill="#917d4d"/>
<rect x="2376" y="416" width="112" height="51" fill="#ececec"/>
<rect x="2413" y="416" width="40" height="51" fill="#917d4d"/>
<rect x="2406" y="416" width="4" height="51" fill="#c4c4c4"/>
<rect x="2458" y="416" width="4" height="51" fill="#c4c4c4"/>
<rect x="2379" y="475" width="14" height="15" fill="#d8d8d8"/>
<rect x="2399" y="475" width="14" height="15" fill="#d8d8d8"/>
<rect x="2419" y="475" width="14" height="15" fill="#d8d8d8"/>
<rect x="2439" y="475" width="14" height="15" fill="#d8d8d8"/>
<circle cx="2406" cy="483" r="6" fill="#222" />
<circle cx="2446" cy="483" r="6" fill="#777" />
<rect x="2557" y="532" width="52" height="18" fill="#e8e8e8"/>
<rect x="2557" y="619" width="52" height="24" fill="#e8e8e8"/>
<path d="M 2377 518 H 2555 V 672 L 2528 699 H 2404 L 2377 672 Z" fill="#3b3b3b"/>
<rect x="2372" y="505" width="190" height="12" fill="#1c1c1c"/>
<path d="M 2425 520 l 11 -8 l 11 8 l -3 12 h -16 z" fill="#dcdcdc"/>
<path d="M 2421 528 a 15 10 0 0 0 30 0" fill="none" stroke="#2a2a2a" stroke-width="3"/>
<circle cx="2436" cy="535" r="3.5" fill="#8f7a4a" />
<path d="M 2483 520 l 11 -8 l 11 8 l -3 12 h -16 z" fill="#dcdcdc"/>
<path d="M 2479 528 a 15 10 0 0 0 30 0" fill="none" stroke="#2a2a2a" stroke-width="3"/>
<circle cx="2494" cy="535" r="3.5" fill="#8f7a4a" />
<rect x="2442" y="639" width="50" height="22" fill="#2e2e2e"/>
<rect x="2442" y="663" width="50" height="20" fill="#353535"/>
<text x="2389" y="513" font-family="Liberation Sans" font-size="17" fill="#bdbdbd">+ 24VO4</text>
<circle cx="2596" cy="306" r="5" fill="#dedede" />
<path d="M 2620 330 V 311 H 2646 M 2672 311 H 2703 M 2620 380 V 406 H 2701" fill="none" stroke="#c9c9c9" stroke-width="4"/>
<rect x="2741" y="312" width="10" height="11" fill="#e9e9e9"/>
<rect x="2759" y="312" width="10" height="11" fill="#1a1a1a"/>
<rect x="2741" y="328" width="10" height="11" fill="#e9e9e9"/>
<rect x="2759" y="328" width="10" height="11" fill="#1a1a1a"/>
<rect x="2741" y="344" width="10" height="11" fill="#e9e9e9"/>
<rect x="2759" y="344" width="10" height="11" fill="#1a1a1a"/>
<rect x="2593" y="410" width="120" height="64" rx="8" fill="none" stroke="#bdbdbd" stroke-width="2.5"/>
<rect x="2622.5" y="314.5" width="82" height="87" fill="#2c2c2c" stroke="#181818" stroke-width="3"/>
<rect x="2589" y="319.0" width="32" height="8" rx="4" fill="#e9e9e9"/>
<rect x="2707" y="319.0" width="31" height="8" rx="4" fill="#e9e9e9"/>
<rect x="2589" y="330.6" width="32" height="8" rx="4" fill="#e9e9e9"/>
<rect x="2707" y="330.6" width="31" height="8" rx="4" fill="#e9e9e9"/>
<rect x="2589" y="342.2" width="32" height="8" rx="4" fill="#e9e9e9"/>
<rect x="2707" y="342.2" width="31" height="8" rx="4" fill="#e9e9e9"/>
<rect x="2589" y="353.8" width="32" height="8" rx="4" fill="#e9e9e9"/>
<rect x="2707" y="353.8" width="31" height="8" rx="4" fill="#e9e9e9"/>
<rect x="2589" y="365.4" width="32" height="8" rx="4" fill="#e9e9e9"/>
<rect x="2707" y="365.4" width="31" height="8" rx="4" fill="#e9e9e9"/>
<rect x="2589" y="377.0" width="32" height="8" rx="4" fill="#e9e9e9"/>
<rect x="2707" y="377.0" width="31" height="8" rx="4" fill="#e9e9e9"/>
<rect x="2589" y="388.6" width="32" height="8" rx="4" fill="#e9e9e9"/>
<rect x="2707" y="388.6" width="31" height="8" rx="4" fill="#e9e9e9"/>
<rect x="2548" y="326" width="13" height="12" fill="#e9e9e9"/>
<rect x="2567" y="326" width="13" height="12" fill="#e9e9e9"/>
<circle cx="2561" cy="344" r="4" fill="#111" />
<rect x="2548" y="346" width="13" height="12" fill="#e9e9e9"/>
<rect x="2567" y="346" width="13" height="12" fill="#e9e9e9"/>
<circle cx="2561" cy="364" r="4" fill="#111" />
<rect x="2548" y="366" width="13" height="12" fill="#e9e9e9"/>
<rect x="2567" y="366" width="13" height="12" fill="#e9e9e9"/>
<circle cx="2561" cy="384" r="4" fill="#111" />
<rect x="2548" y="386" width="13" height="12" fill="#e9e9e9"/>
<rect x="2567" y="386" width="13" height="12" fill="#e9e9e9"/>
<circle cx="2561" cy="404" r="4" fill="#111" />
<rect x="2555" y="397" width="12" height="10" fill="#917d4d"/>
<rect x="2552" y="413" width="31" height="78" fill="#ececec"/>
<rect x="2552" y="418" width="31" height="5" fill="#b5b5b5"/>
<rect x="2552" y="436" width="31" height="42" fill="#917d4d"/>
<rect x="2600" y="416" width="112" height="51" fill="#ececec"/>
<rect x="2637" y="416" width="40" height="51" fill="#917d4d"/>
<rect x="2630" y="416" width="4" height="51" fill="#c4c4c4"/>
<rect x="2682" y="416" width="4" height="51" fill="#c4c4c4"/>
<rect x="2603" y="475" width="14" height="15" fill="#d8d8d8"/>
<rect x="2623" y="475" width="14" height="15" fill="#d8d8d8"/>
<rect x="2643" y="475" width="14" height="15" fill="#d8d8d8"/>
<rect x="2663" y="475" width="14" height="15" fill="#d8d8d8"/>
<circle cx="2630" cy="483" r="6" fill="#222" />
<circle cx="2670" cy="483" r="6" fill="#777" />
<rect x="2802" y="532" width="52" height="18" fill="#e8e8e8"/>
<rect x="2802" y="619" width="52" height="24" fill="#e8e8e8"/>
<path d="M 2622 518 H 2800 V 672 L 2773 699 H 2649 L 2622 672 Z" fill="#3b3b3b"/>
<rect x="2617" y="505" width="190" height="12" fill="#1c1c1c"/>
<path d="M 2670 520 l 11 -8 l 11 8 l -3 12 h -16 z" fill="#dcdcdc"/>
<path d="M 2666 528 a 15 10 0 0 0 30 0" fill="none" stroke="#2a2a2a" stroke-width="3"/>
<circle cx="2681" cy="535" r="3.5" fill="#8f7a4a" />
<path d="M 2728 520 l 11 -8 l 11 8 l -3 12 h -16 z" fill="#dcdcdc"/>
<path d="M 2724 528 a 15 10 0 0 0 30 0" fill="none" stroke="#2a2a2a" stroke-width="3"/>
<circle cx="2739" cy="535" r="3.5" fill="#8f7a4a" />
<rect x="2687" y="639" width="50" height="22" fill="#2e2e2e"/>
<rect x="2687" y="663" width="50" height="20" fill="#353535"/>
<text x="2634" y="513" font-family="Liberation Sans" font-size="17" fill="#bdbdbd">+ 24VO3</text>
<circle cx="2820" cy="306" r="5" fill="#dedede" />
<path d="M 2844 330 V 311 H 2870 M 2896 311 H 2927 M 2844 380 V 406 H 2925" fill="none" stroke="#c9c9c9" stroke-width="4"/>
<rect x="2965" y="312" width="10" height="11" fill="#e9e9e9"/>
<rect x="2983" y="312" width="10" height="11" fill="#1a1a1a"/>
<rect x="2965" y="328" width="10" height="11" fill="#e9e9e9"/>
<rect x="2983" y="328" width="10" height="11" fill="#1a1a1a"/>
<rect x="2965" y="344" width="10" height="11" fill="#e9e9e9"/>
<rect x="2983" y="344" width="10" height="11" fill="#1a1a1a"/>
<rect x="2816" y="410" width="120" height="64" rx="8" fill="none" stroke="#bdbdbd" stroke-width="2.5"/>
<rect x="2846.5" y="314.5" width="82" height="87" fill="#2c2c2c" stroke="#181818" stroke-width="3"/>
<rect x="2813" y="319.0" width="32" height="8" rx="4" fill="#e9e9e9"/>
<rect x="2931" y="319.0" width="31" height="8" rx="4" fill="#e9e9e9"/>
<rect x="2813" y="330.6" width="32" height="8" rx="4" fill="#e9e9e9"/>
<rect x="2931" y="330.6" width="31" height="8" rx="4" fill="#e9e9e9"/>
<rect x="2813" y="342.2" width="32" height="8" rx="4" fill="#e9e9e9"/>
<rect x="2931" y="342.2" width="31" height="8" rx="4" fill="#e9e9e9"/>
<rect x="2813" y="353.8" width="32" height="8" rx="4" fill="#e9e9e9"/>
<rect x="2931" y="353.8" width="31" height="8" rx="4" fill="#e9e9e9"/>
<rect x="2813" y="365.4" width="32" height="8" rx="4" fill="#e9e9e9"/>
<rect x="2931" y="365.4" width="31" height="8" rx="4" fill="#e9e9e9"/>
<rect x="2813" y="377.0" width="32" height="8" rx="4" fill="#e9e9e9"/>
<rect x="2931" y="377.0" width="31" height="8" rx="4" fill="#e9e9e9"/>
<rect x="2813" y="388.6" width="32" height="8" rx="4" fill="#e9e9e9"/>
<rect x="2931" y="388.6" width="31" height="8" rx="4" fill="#e9e9e9"/>
<rect x="2772" y="326" width="13" height="12" fill="#e9e9e9"/>
<rect x="2791" y="326" width="13" height="12" fill="#e9e9e9"/>
<circle cx="2785" cy="344" r="4" fill="#111" />
<rect x="2772" y="346" width="13" height="12" fill="#e9e9e9"/>
<rect x="2791" y="346" width="13" height="12" fill="#e9e9e9"/>
<circle cx="2785" cy="364" r="4" fill="#111" />
<rect x="2772" y="366" width="13" height="12" fill="#e9e9e9"/>
<rect x="2791" y="366" width="13" height="12" fill="#e9e9e9"/>
<circle cx="2785" cy="384" r="4" fill="#111" />
<rect x="2772" y="386" width="13" height="12" fill="#e9e9e9"/>
<rect x="2791" y="386" width="13" height="12" fill="#e9e9e9"/>
<circle cx="2785" cy="404" r="4" fill="#111" />
<rect x="2779" y="397" width="12" height="10" fill="#917d4d"/>
<rect x="2781" y="413" width="31" height="78" fill="#ececec"/>
<rect x="2781" y="418" width="31" height="5" fill="#b5b5b5"/>
<rect x="2781" y="436" width="31" height="42" fill="#917d4d"/>
<rect x="2823" y="416" width="112" height="51" fill="#ececec"/>
<rect x="2860" y="416" width="40" height="51" fill="#917d4d"/>
<rect x="2853" y="416" width="4" height="51" fill="#c4c4c4"/>
<rect x="2905" y="416" width="4" height="51" fill="#c4c4c4"/>
<rect x="2826" y="475" width="14" height="15" fill="#d8d8d8"/>
<rect x="2846" y="475" width="14" height="15" fill="#d8d8d8"/>
<rect x="2866" y="475" width="14" height="15" fill="#d8d8d8"/>
<rect x="2886" y="475" width="14" height="15" fill="#d8d8d8"/>
<circle cx="2853" cy="483" r="6" fill="#222" />
<circle cx="2893" cy="483" r="6" fill="#777" />
<rect x="3050" y="532" width="52" height="18" fill="#e8e8e8"/>
<rect x="3050" y="619" width="52" height="24" fill="#e8e8e8"/>
<path d="M 2870 518 H 3048 V 672 L 3021 699 H 2897 L 2870 672 Z" fill="#3b3b3b"/>
<rect x="2865" y="505" width="190" height="12" fill="#1c1c1c"/>
<path d="M 2918 520 l 11 -8 l 11 8 l -3 12 h -16 z" fill="#dcdcdc"/>
<path d="M 2914 528 a 15 10 0 0 0 30 0" fill="none" stroke="#2a2a2a" stroke-width="3"/>
<circle cx="2929" cy="535" r="3.5" fill="#8f7a4a" />
<path d="M 2976 520 l 11 -8 l 11 8 l -3 12 h -16 z" fill="#dcdcdc"/>
<path d="M 2972 528 a 15 10 0 0 0 30 0" fill="none" stroke="#2a2a2a" stroke-width="3"/>
<circle cx="2987" cy="535" r="3.5" fill="#8f7a4a" />
<rect x="2935" y="639" width="50" height="22" fill="#2e2e2e"/>
<rect x="2935" y="663" width="50" height="20" fill="#353535"/>
<text x="2882" y="513" font-family="Liberation Sans" font-size="17" fill="#bdbdbd">+ 24VO2</text>
<rect x="2048" y="313" width="10" height="12" fill="#e9e9e9"/>
<rect x="2048" y="333" width="10" height="12" fill="#e9e9e9"/>
<rect x="2048" y="353" width="10" height="12" fill="#e9e9e9"/>
<rect x="2064" y="313" width="10" height="12" fill="#e9e9e9"/>
<rect x="2064" y="333" width="10" height="12" fill="#e9e9e9"/>
<rect x="2064" y="353" width="10" height="12" fill="#e9e9e9"/>
<rect x="3032" y="299" width="28" height="18" fill="#dcdcdc"/>
<rect x="3032" y="441" width="28" height="17" fill="#dcdcdc"/>
<circle cx="3049" cy="379" r="57" fill="#d6d6d6" stroke="#9a9a9a" stroke-width="2"/>
<path d="M 3002 347 A 57 57 0 0 1 3096 347 Z" fill="#2c2c2c"/>
<g transform="translate(3049 390) rotate(90)" fill="#3c3c3c" font-family="Liberation Sans" font-weight="bold" font-size="28"><text x="-34" y="-18">100</text><text x="-34" y="11">35V</text><text x="-30" y="40">XT</text></g>
<rect x="3162" y="306" width="128" height="91" fill="#262626"/>
<rect x="3133" y="299" width="29" height="107" fill="#d3d3d3"/>
<rect x="3130" y="299" width="49" height="6" fill="#d9d9d9"/>
<rect x="3130" y="400" width="49" height="6" fill="#d9d9d9"/>
<rect x="3290" y="299" width="25" height="107" fill="#d3d3d3"/>
<rect x="3268" y="299" width="47" height="6" fill="#d9d9d9"/>
<rect x="3268" y="400" width="47" height="6" fill="#d9d9d9"/>
<g transform="translate(3227 338) rotate(180)" fill="#e39220" font-family="Liberation Sans" font-weight="bold" font-size="36"><text x="-34" y="13">500</text></g>
<path d="M 3217 384 V 368 Q 3217 360 3227 360 H 3244" fill="none" stroke="#e39220" stroke-width="10"/>
<path d="M 3315 313 H 3333 V 398 Q 3333 425 3312 434 M 3216 402 Q 3222 425 3244 432" fill="none" stroke="#c9c9c9" stroke-width="3"/>
<path d="M 3071 318 V 309 H 3099 V 318 M 3111 326 Q 3125 323 3132 309" fill="none" stroke="#c9c9c9" stroke-width="3"/>
<rect x="3111" y="402" width="61" height="30" rx="8" fill="none" stroke="#c9c9c9" stroke-width="3"/>
<rect x="3176" y="411" width="14" height="14" rx="3" fill="none" stroke="#c9c9c9" stroke-width="2.5"/>
<rect x="3035" y="442" width="24" height="16" fill="#e9e9e9"/>
<rect x="2965" y="303" width="10" height="12" fill="#dddddd"/>
<rect x="2965" y="320" width="10" height="12" fill="#dddddd"/>
<rect x="2965" y="337" width="10" height="12" fill="#dddddd"/>
<rect x="2965" y="354" width="10" height="12" fill="#dddddd"/>
<rect x="2956" y="413" width="10" height="27" fill="#d5d5d5"/>
<rect x="3119" y="543" width="14" height="12" fill="#e9e9e9"/>
<rect x="3119" y="561" width="14" height="12" fill="#e9e9e9"/>
<circle cx="3131" cy="476" r="55" fill="#9c8767" />
<circle cx="3131" cy="476" r="28" fill="#ffffff" />
<circle cx="3174.0" cy="476.0" r="6" fill="#ffffff" />
<circle cx="3161.4" cy="506.4" r="6" fill="#ffffff" />
<circle cx="3131.0" cy="519.0" r="6" fill="#ffffff" />
<circle cx="3100.6" cy="506.4" r="6" fill="#ffffff" />
<circle cx="3088.0" cy="476.0" r="6" fill="#ffffff" />
<circle cx="3100.6" cy="445.6" r="6" fill="#ffffff" />
<circle cx="3131.0" cy="433.0" r="6" fill="#ffffff" />
<circle cx="3161.4" cy="445.6" r="6" fill="#ffffff" />
<rect x="2952" y="472" width="14" height="16" fill="#e9e9e9"/>
<rect x="2975" y="472" width="18" height="16" fill="#cfcfcf"/>
<rect x="3235" y="417" width="82" height="20" rx="8" fill="#bdbdbd"/>
<rect x="3195" y="445" width="170" height="248" fill="url(#jackg)"/>
<rect x="3198" y="643" width="167" height="50" fill="#353535"/>
<rect x="3198" y="642" width="167" height="3" fill="#444444"/>
<rect x="3363" y="452" width="15" height="82" fill="#cfcfcf"/>
<rect x="3195" y="445" width="170" height="4" fill="#1d1d1d"/>
<rect x="39.5" y="431.5" width="170" height="193" fill="none" stroke="#1ce896" stroke-width="9"/>
<rect x="347.5" y="430.5" width="92" height="281" fill="none" stroke="#1ce896" stroke-width="9"/>
<rect x="515.5" y="429.5" width="92" height="281" fill="none" stroke="#1ce896" stroke-width="9"/>
<rect x="683.5" y="429.5" width="91" height="281" fill="none" stroke="#1ce896" stroke-width="9"/>
<rect x="846.5" y="429.5" width="91" height="281" fill="none" stroke="#1ce896" stroke-width="9"/>
<rect x="107.0" y="629" width="8" height="138" fill="#1ce896"/>
<rect x="395.0" y="230" width="8" height="196" fill="#1ce896"/>
<rect x="562.5" y="715" width="8" height="199" fill="#1ce896"/>
<rect x="727.0" y="115" width="8" height="310" fill="#1ce896"/>
<rect x="889.0" y="715" width="8" height="50" fill="#1ce896"/>
<rect x="1878.5" y="498.5" width="197" height="212" fill="none" stroke="#1492ee" stroke-width="9"/>
<rect x="2124.5" y="498.5" width="197" height="212" fill="none" stroke="#1492ee" stroke-width="9"/>
<rect x="2366.5" y="498.5" width="197" height="212" fill="none" stroke="#1492ee" stroke-width="9"/>
<rect x="2611.5" y="498.5" width="197" height="212" fill="none" stroke="#1492ee" stroke-width="9"/>
<rect x="2859.5" y="498.5" width="197" height="212" fill="none" stroke="#1492ee" stroke-width="9"/>
<rect x="3184.5" y="437.5" width="198" height="271" fill="none" stroke="#1492ee" stroke-width="9"/>
<rect x="1970.0" y="715" width="8" height="64" fill="#1492ee"/>
<rect x="2191.0" y="715" width="8" height="212" fill="#1492ee"/>
<rect x="2468.0" y="715" width="8" height="63" fill="#1492ee"/>
<rect x="2717.0" y="715" width="8" height="210" fill="#1492ee"/>
<rect x="2963.0" y="715" width="8" height="63" fill="#1492ee"/>
<rect x="3293.0" y="713" width="8" height="213" fill="#1492ee"/>
<text x="517.88" y="70" fill="#1ce896" stroke="#1ce896" class="lbl" textLength="419.22" lengthAdjust="spacingAndGlyphs">5V-OUT 2</text>
<text x="183.89" y="207" fill="#1ce896" stroke="#1ce896" class="lbl" textLength="418.12" lengthAdjust="spacingAndGlyphs">5V-OUT 4</text>
<text x="-1.12" y="872" fill="#1ce896" stroke="#1ce896" class="lbl" textLength="419.18" lengthAdjust="spacingAndGlyphs">5V-OUT 5</text>
<text x="706.04" y="872" fill="#1ce896" stroke="#1ce896" class="lbl" textLength="397.85" lengthAdjust="spacingAndGlyphs">5V-OUT 1</text>
<text x="343.89" y="1017" fill="#1ce896" stroke="#1ce896" class="lbl" textLength="418.16" lengthAdjust="spacingAndGlyphs">5V-OUT 3</text>
<text x="1698.01" y="872" fill="#1492ee" stroke="#1492ee" class="lbl" textLength="452.53" lengthAdjust="spacingAndGlyphs">24V-OUT 5</text>
<text x="2238.01" y="872" fill="#1492ee" stroke="#1492ee" class="lbl" textLength="452.53" lengthAdjust="spacingAndGlyphs">24V-OUT 3</text>
<text x="2790.2" y="872" fill="#1492ee" stroke="#1492ee" class="lbl" textLength="431.17" lengthAdjust="spacingAndGlyphs">24V-OUT 1</text>
<text x="2029.01" y="1011" fill="#1492ee" stroke="#1492ee" class="lbl" textLength="452.53" lengthAdjust="spacingAndGlyphs">24V-OUT 4</text>
<text x="2538.0" y="1011" fill="#1492ee" stroke="#1492ee" class="lbl" textLength="453.55" lengthAdjust="spacingAndGlyphs">24V-OUT 2</text>
<text x="3138.03" y="1011" fill="#1492ee" stroke="#1492ee" class="lbl" textLength="276.13" lengthAdjust="spacingAndGlyphs">24V-IN</text>
</svg>
</body></html>
